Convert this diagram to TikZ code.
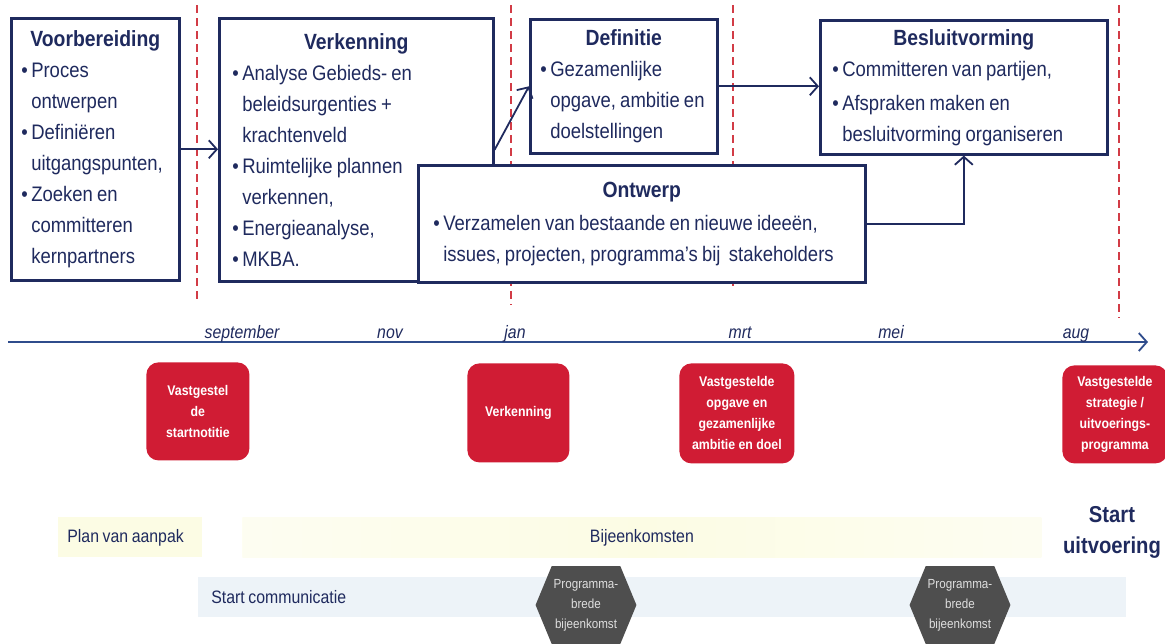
\documentclass[tikz,border=0pt]{standalone}
\usepackage{fontspec}
\setmainfont[FakeStretch=0.88]{Liberation Sans}
\usetikzlibrary{arrows.meta,shapes.symbols}

\definecolor{navy}{HTML}{1F2A5E}
\definecolor{lineblue}{HTML}{2F4C8C}
\definecolor{mtred}{HTML}{D01C34}
\definecolor{dashred}{HTML}{D23C46}
\definecolor{hexgray}{HTML}{4E4E4E}
\definecolor{bandyel}{HTML}{FCFCE4}
\definecolor{bandblue}{HTML}{EDF3F8}

\newcommand{\bl}{\textbullet\,}
\newcommand{\ind}{\phantom{\textbullet\,}}
\newcommand{\ttl}[1]{\makebox[\linewidth]{\fontsize{11}{15.5}\selectfont\bfseries #1}}
\newcommand{\tight}{\spaceskip=0.2em plus 0.05em\relax}

\begin{document}
\begin{tikzpicture}[x=0.5pt, y=-0.5pt,
  phase/.style={draw=navy, line width=1.3pt, fill=white, text=navy, anchor=north west, align=justify, inner ysep=2pt, font=\fontsize{10.5}{15.5}\selectfont\tight},
  flow/.style={-{Straight Barb[length=4pt,width=9pt]}, draw=navy, line width=0.9pt},
  timeline/.style={-{Straight Barb[length=4pt,width=9pt]}, draw=lineblue, line width=0.9pt},
  sep/.style={draw=dashred, line width=1pt, dash pattern=on 4pt off 2.5pt},
  month/.style={text=navy, anchor=base, font=\itshape\fontsize{9}{11}\selectfont},
  milestone/.style={rounded corners=6pt, fill=mtred, text=white, anchor=north west, align=center, inner sep=1pt, font=\bfseries\fontsize{7}{10.5}\selectfont},
  band/.style={anchor=north west, text=navy, align=justify, minimum height=20pt, font=\fontsize{9}{11}\selectfont\tight},
  hexa/.style={signal, signal to=east and west, signal pointer angle=135, fill=hexgray, text=gray!25, align=center, inner sep=1pt, minimum width=48.5pt, minimum height=39pt, font=\fontsize{6.6}{10}\selectfont}
]
\useasboundingbox (0,0) rectangle (1165,643);

% Phase borders
\foreach \x/\yb in {197/303, 511/305, 733/290, 1119/318}
  \draw[sep] (\x,5) -- (\x,\yb);

% Phases
\node[phase, minimum width=84pt, minimum height=131pt, text width=74pt, inner xsep=5pt] (voor) at (10,17)
  {\ttl{Voorbereiding}\\ \bl Proces\\ \ind ontwerpen\\ \bl Definiëren\\ \ind uitgangspunten,\\ \bl Zoeken en\\ \ind committeren\\ \ind kernpartners};
\node[phase, minimum width=137pt, minimum height=131.5pt, text width=124pt, inner xsep=6.5pt] (verk) at (218,17)
  {\ttl{Verkenning}\\ \bl Analyse Gebieds- en\\ \ind beleidsurgenties +\\ \ind krachtenveld\\ \bl Ruimtelijke plannen\\ \ind verkennen,\\ \bl Energieanalyse,\\ \bl MKBA.};
\node[phase, minimum width=93.5pt, minimum height=67pt, text width=83.5pt, inner xsep=5pt] (defi) at (529,18)
  {\ttl{Definitie}\\ \bl Gezamenlijke\\ \ind opgave, ambitie en\\ \ind doelstellingen};
\node[phase, minimum width=143.5pt, minimum height=67pt, text width=131.5pt, inner xsep=6pt] (besl) at (819,19)
  {\ttl{Besluitvorming}\\ \bl Committeren van partijen,\\[1.5pt] \bl Afspraken maken en\\ \ind besluitvorming organiseren};
\node[phase, minimum width=223.5pt, minimum height=58.5pt, text width=208.5pt, inner xsep=7.5pt] (ontw) at (417,164)
  {\ttl{Ontwerp}\\[1pt] \bl Verzamelen van bestaande en nieuwe ideeën,\\ \ind issues, projecten, programma’s bij\ \ stakeholders};

% Flow
\draw[flow] (voor.east) -- (voor.east -| verk.west);
\draw[flow] (verk.east) -- (defi.west);
\draw[flow] (defi.east) -- (defi.east -| besl.west);
\draw[flow] (ontw.east) -| (besl.south);

% Timeline
\coordinate (t0) at (8,342);
\coordinate (t1) at (1148,342);
\draw[timeline] (t0) -- (t1);
\foreach \m/\x in {september/242, nov/390, jan/515, mrt/740, mei/891, aug/1076}
  \node[month] (m-\m) at (\x,338) {\m};

% Milestones
\node[milestone, minimum width=51.5pt, minimum height=49pt] (ms1) at (146,362) {Vastgestel\\de\\startnotitie};
\node[milestone, minimum width=51pt, minimum height=49.5pt] (ms2) at (467,363) {Verkenning};
\node[milestone, minimum width=57.5pt, minimum height=50pt] (ms3) at (679,363) {Vastgestelde\\opgave en\\gezamenlijke\\ambitie en doel};
\node[milestone, minimum width=52.5pt, minimum height=49pt] (ms4) at (1062,365) {Vastgestelde\\strategie /\\uitvoerings-\\programma};

% Communication
\node[band, fill=bandyel, minimum width=72pt, text width=63pt, inner xsep=4.5pt] (plan) at (58,517) {Plan van aanpak};
\node[band, left color=bandyel!50, right color=bandyel!50, middle color=bandyel, minimum width=399.5pt, align=center] (bij) at (242,517) {Bijeenkomsten};
\node[band, fill=bandblue, minimum width=464pt, text width=451pt, inner xsep=6.5pt] (comm) at (198,577) {Start communicatie};
\node[text=navy, align=center, font=\bfseries\fontsize{11.5}{15.5}\selectfont] (start) at (1112,532) {Start\\uitvoering};
\node[hexa] (hex1) at (586,605) {Programma-\\brede\\bijeenkomst};
\node[hexa] (hex2) at (960,605) {Programma-\\brede\\bijeenkomst};

\end{tikzpicture}
\end{document}
